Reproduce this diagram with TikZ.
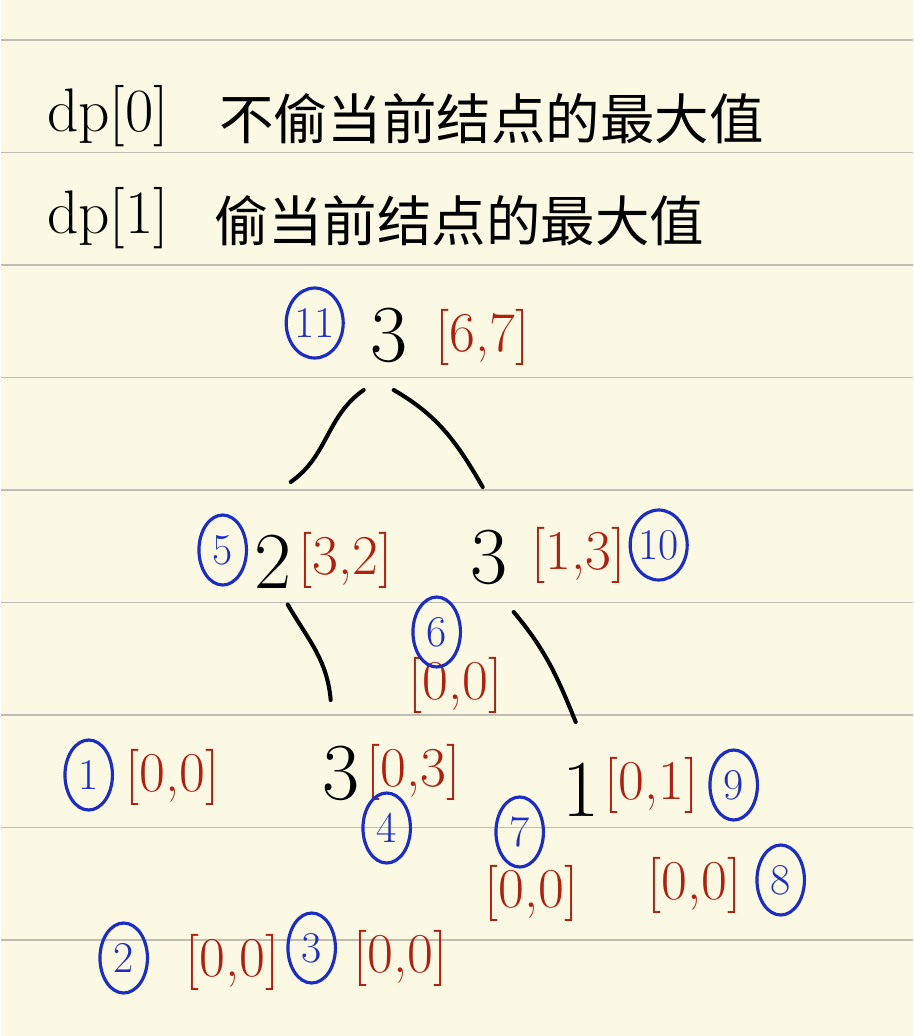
\documentclass[tikz,border=0pt]{standalone}
\usepackage{fontspec}
\newfontfamily\cjk{Noto Sans CJK SC}
\usetikzlibrary{shapes.geometric}
\definecolor{paper}{HTML}{FBF8E3}
\definecolor{ruleline}{HTML}{BEBCB3}
\definecolor{penred}{HTML}{B0200F}
\definecolor{penblue}{HTML}{1B2DC2}

\begin{document}
\begin{tikzpicture}[x=0.02cm,y=-0.02cm,
  title/.style={font=\fontsize{31}{31}\selectfont,inner sep=0pt},
  val/.style={font=\fontsize{46}{46}\selectfont,inner sep=0pt},
  pair/.style={text=penred,font=\fontsize{32}{32}\selectfont,inner sep=0pt},
  ord/.style={ellipse,draw=penblue,line width=1.8pt,text=penblue,
    font=\fontsize{25}{25}\selectfont,minimum width=0.95cm,minimum height=1.4cm,inner sep=0pt},
  edge/.style={line width=2.3pt,line cap=round}]
  % paper
  \fill[paper] (0,0) rectangle (912,1036);
  \foreach \y in {40,152.5,...,940}{\draw[ruleline,line width=0.8pt] (0,\y)--(912,\y);}
  % heading
  \node[title,font=\fontsize{35}{35}\selectfont,anchor=base west] (dpz) at (46,131) {dp[0]};
  \node[title,anchor=base west] (dpzt) at (218,139) {\cjk 不偷当前结点的最大值};
  \node[title,font=\fontsize{35}{35}\selectfont,anchor=base west] (dpo) at (46,233) {dp[1]};
  \node[title,anchor=base west] (dpot) at (213,241) {\cjk 偷当前结点的最大值};
  % tree values
  \node[val] (root) at (388,335) {3};
  \node[val] (l) at (272,562) {2};
  \node[val] (r) at (488,557) {3};
  \node[val] (ll) at (340,773) {3};
  \node[val] (rr) at (580,790) {1};
  % dp pairs
  \foreach \n/\x/\y/\t in {rootp/482/337/{[6,7]}, lp/345/560/{[3,2]}, rp/578/555/{[1,3]},
      sixp/455/685/{[0,0]}, onep/172/777/{[0,0]}, llp/413/772/{[0,3]}, rrp/651/785/{[0,1]},
      sevp/531/893/{[0,0]}, eigp/694/885/{[0,0]}, twop/232/962/{[0,0]}, thrp/400/958/{[0,0]}}{
    \node[pair] (\n) at (\x,\y) {\t};
  }
  % visiting order
  \foreach \n/\x/\y/\t in {roota/314/323/11, la/222/550/5, ra/658/545/10, sixa/436/632/6,
      onea/88/775/1, lla/386/828/4, rra/733/785/9, seva/519/832/7, eiga/780/880/8,
      twoa/123/958/2, thra/311/948/3}{
    \node[ord] (\n) at (\x,\y) {\t};
  }
  % edges
  \draw[edge] ([xshift=-0.5cm,yshift=-1.1cm]root.center) to[out=-145,in=35] ([xshift=0.36cm,yshift=1.6cm]l.center);
  \draw[edge] ([xshift=0.1cm,yshift=-1.1cm]root.center) to[out=-30,in=120] ([xshift=-0.12cm,yshift=1.4cm]r.center);
  \draw[edge] ([xshift=0.3cm,yshift=-0.85cm]l.center) to[out=-60,in=95] ([xshift=-0.2cm,yshift=1.46cm]ll.center);
  \draw[edge] ([xshift=0.5cm,yshift=-1.1cm]r.center) to[out=-50,in=112] ([xshift=-0.1cm,yshift=1.36cm]rr.center);
\end{tikzpicture}
\end{document}
